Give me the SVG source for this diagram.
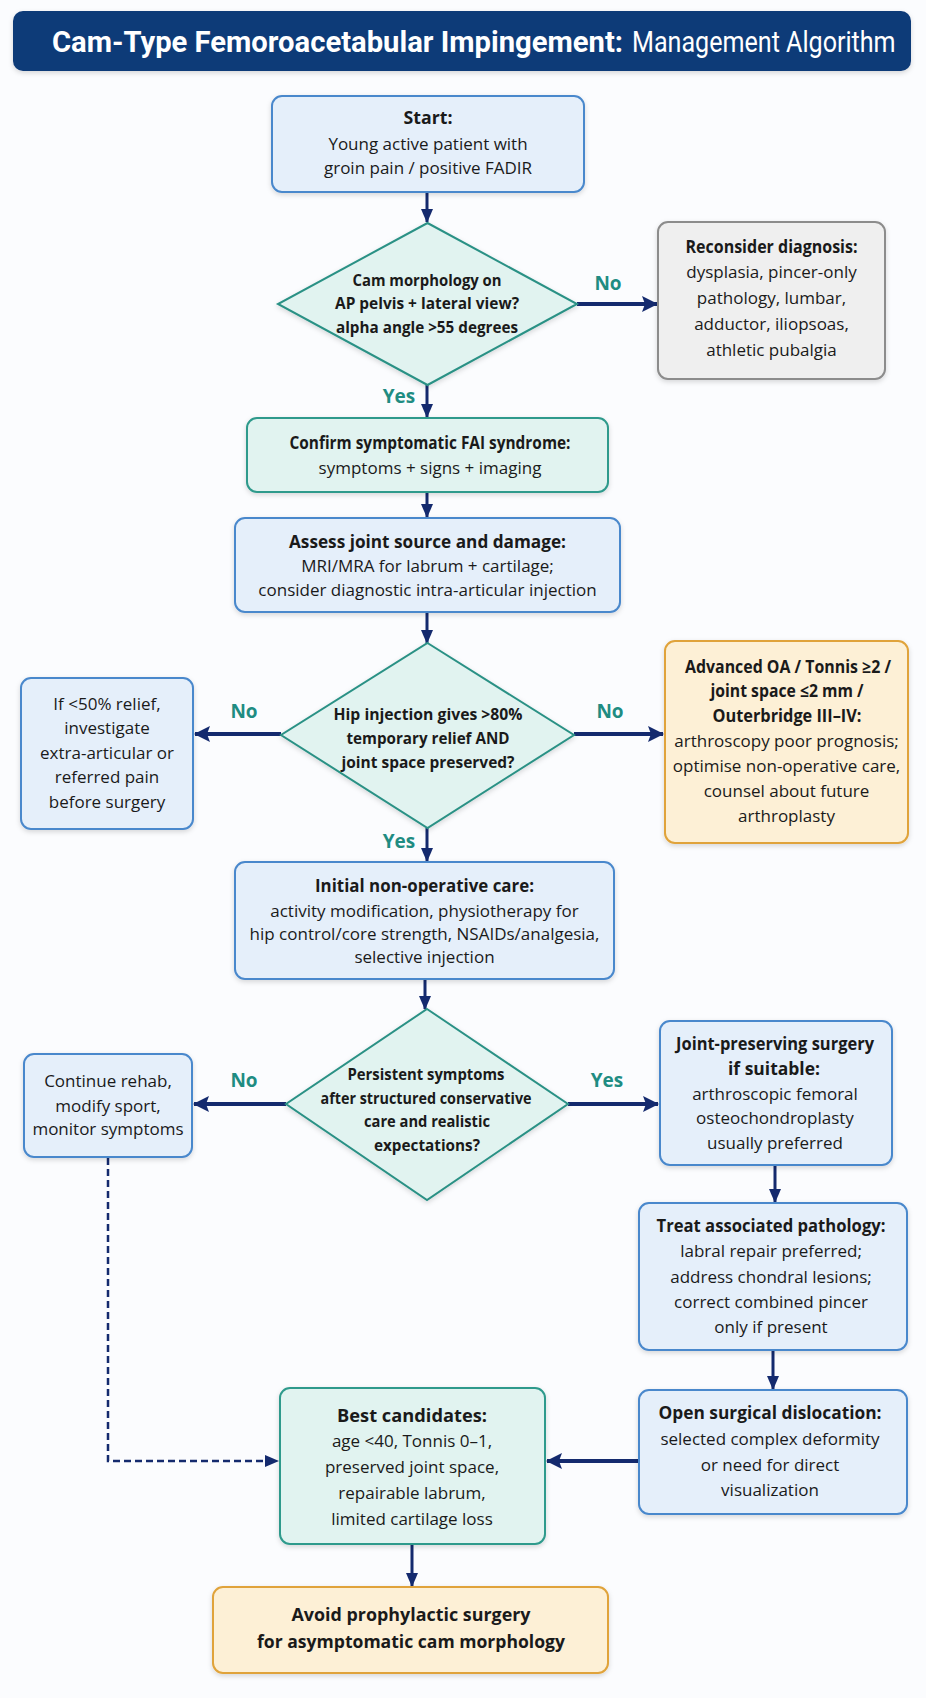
<svg xmlns="http://www.w3.org/2000/svg" width="926" height="1698" viewBox="0 0 926 1698">
<defs>
<style>
text{font-family:"Open Sans","Noto Sans","Liberation Sans",sans-serif;fill:#1a1a1a;text-anchor:middle}
.t{font-size:17px}
.b{font-size:17px;font-weight:bold}
.d{font-size:16px;font-weight:bold}
.lbl{font-size:19px;font-weight:bold;fill:#1f8c82}
.title{font-family:Roboto,"Open Sans","Liberation Sans",sans-serif;font-size:29px;fill:#ffffff;text-anchor:start}
.blue{fill:#e5effa;stroke:#4a88cc;stroke-width:2}
.teal{fill:#e1f3f0;stroke:#2f9a8c;stroke-width:2}
.gray{fill:#efefef;stroke:#8c8c8c;stroke-width:2}
.orange{fill:#fdf0d6;stroke:#e0a33a;stroke-width:2}
.dia{fill:#e1f3f0;stroke:#2a9185;stroke-width:2}
.c{fill:none;stroke:#142a6e;stroke-width:3}
.ch{fill:none;stroke:#142a6e;stroke-width:4}
.dash{fill:none;stroke:#142a6e;stroke-width:2.5;stroke-dasharray:7 4}
</style>
<filter id="sh" x="-10%" y="-10%" width="120%" height="130%">
<feDropShadow dx="0" dy="2" stdDeviation="2.5" flood-color="#000" flood-opacity="0.15"/>
</filter>
<marker id="a" markerUnits="userSpaceOnUse" viewBox="0 0 14 12" refX="13" refY="6" markerWidth="14" markerHeight="12" orient="auto">
<path d="M0,0 L14,6 L0,12 z" fill="#142a6e"/>
</marker>
<marker id="ah" markerUnits="userSpaceOnUse" viewBox="0 0 16 16" refX="15" refY="8" markerWidth="16" markerHeight="16" orient="auto">
<path d="M0,0 L16,8 L0,16 L3,8 z" fill="#142a6e"/>
</marker>
</defs>
<rect width="926" height="1698" fill="#fbfcfe"/>

<g id="title">
<rect x="13" y="11" width="898" height="60" rx="10" fill="#0e3a78" filter="url(#sh)"/>
<text class="title" x="52" y="52" font-weight="bold" textLength="571" lengthAdjust="spacingAndGlyphs">Cam-Type Femoroacetabular Impingement:</text>
<text class="title" x="0" y="0" transform="translate(632,52) scale(0.866,1)">Management Algorithm</text>
</g>

<g id="connectors">
<line class="c" x1="427" y1="192" x2="427" y2="222" marker-end="url(#a)"/>
<line class="c" x1="427" y1="385" x2="427" y2="417" marker-end="url(#a)"/>
<line class="c" x1="427" y1="492" x2="427" y2="517" marker-end="url(#a)"/>
<line class="c" x1="427" y1="612" x2="427" y2="643" marker-end="url(#a)"/>
<line class="c" x1="427" y1="828" x2="427" y2="861" marker-end="url(#a)"/>
<line class="c" x1="425" y1="979" x2="425" y2="1009" marker-end="url(#a)"/>
<line class="c" x1="775" y1="1165" x2="775" y2="1202" marker-end="url(#a)"/>
<line class="c" x1="773" y1="1350" x2="773" y2="1389" marker-end="url(#a)"/>
<line class="c" x1="412" y1="1544" x2="412" y2="1586" marker-end="url(#a)"/>
<line class="ch" x1="577" y1="304" x2="657" y2="304" marker-end="url(#ah)"/>
<line class="ch" x1="281" y1="734" x2="195" y2="734" marker-end="url(#ah)"/>
<line class="ch" x1="574" y1="734" x2="663" y2="734" marker-end="url(#ah)"/>
<line class="ch" x1="286" y1="1104" x2="194" y2="1104" marker-end="url(#ah)"/>
<line class="ch" x1="568" y1="1104" x2="658" y2="1104" marker-end="url(#ah)"/>
<line class="ch" x1="639" y1="1461" x2="547" y2="1461" marker-end="url(#ah)"/>
<path class="dash" d="M108,1158 L108,1461 L278,1461" marker-end="url(#a)"/>
<text class="lbl" x="608" y="290">No</text>
<text class="lbl" x="399" y="403">Yes</text>
<text class="lbl" x="244" y="718">No</text>
<text class="lbl" x="610" y="718">No</text>
<text class="lbl" x="399" y="848">Yes</text>
<text class="lbl" x="244" y="1087">No</text>
<text class="lbl" x="607" y="1087">Yes</text>
</g>

<g id="start">
<rect class="blue" x="272" y="96" width="312" height="96" rx="10" filter="url(#sh)"/>
<text class="b" x="428" y="124" textLength="49" lengthAdjust="spacingAndGlyphs">Start:</text>
<text class="t" x="428" y="150">Young active patient with</text>
<text class="t" x="428" y="174">groin pain / positive FADIR</text>
</g>

<g id="cam-morphology">
<polygon class="dia" points="427.5,223 577,304 427.5,385 278,304" filter="url(#sh)"/>
<text class="d" x="427" y="286" textLength="149" lengthAdjust="spacingAndGlyphs">Cam morphology on</text>
<text class="d" x="427" y="309" textLength="184" lengthAdjust="spacingAndGlyphs">AP pelvis + lateral view?</text>
<text class="d" x="427" y="333" textLength="182" lengthAdjust="spacingAndGlyphs">alpha angle &gt;55 degrees</text>
</g>

<g id="reconsider">
<rect class="gray" x="658" y="222" width="227" height="157" rx="10" filter="url(#sh)"/>
<text class="b" x="771.5" y="253" textLength="172" lengthAdjust="spacingAndGlyphs">Reconsider diagnosis:</text>
<text class="t" x="771.5" y="278">dysplasia, pincer-only</text>
<text class="t" x="771.5" y="304">pathology, lumbar,</text>
<text class="t" x="771.5" y="330">adductor, iliopsoas,</text>
<text class="t" x="771.5" y="356">athletic pubalgia</text>
</g>

<g id="confirm">
<rect class="teal" x="247" y="418" width="361" height="74" rx="10" filter="url(#sh)"/>
<text class="b" x="430" y="449" textLength="281" lengthAdjust="spacingAndGlyphs">Confirm symptomatic FAI syndrome:</text>
<text class="t" x="430" y="474">symptoms + signs + imaging</text>
</g>

<g id="assess">
<rect class="blue" x="235" y="518" width="385" height="94" rx="10" filter="url(#sh)"/>
<text class="b" x="427.5" y="548" textLength="277" lengthAdjust="spacingAndGlyphs">Assess joint source and damage:</text>
<text class="t" x="427.5" y="572">MRI/MRA for labrum + cartilage;</text>
<text class="t" x="427.5" y="596">consider diagnostic intra-articular injection</text>
</g>

<g id="hip-injection">
<polygon class="dia" points="427.5,643 574,735 427.5,828 281,735" filter="url(#sh)"/>
<text class="d" x="428" y="720" textLength="189" lengthAdjust="spacingAndGlyphs">Hip injection gives &gt;80%</text>
<text class="d" x="428" y="744" textLength="163" lengthAdjust="spacingAndGlyphs">temporary relief AND</text>
<text class="d" x="428" y="768" textLength="173" lengthAdjust="spacingAndGlyphs">joint space preserved?</text>
</g>

<g id="investigate">
<rect class="blue" x="21" y="678" width="172" height="151" rx="10" filter="url(#sh)"/>
<text class="t" x="107" y="710">If &lt;50% relief,</text>
<text class="t" x="107" y="734">investigate</text>
<text class="t" x="107" y="759">extra-articular or</text>
<text class="t" x="107" y="783">referred pain</text>
<text class="t" x="107" y="808">before surgery</text>
</g>

<g id="advanced-oa">
<rect class="orange" x="665" y="641" width="243" height="202" rx="10" filter="url(#sh)"/>
<text class="b" x="788" y="673" textLength="206" lengthAdjust="spacingAndGlyphs">Advanced OA / Tonnis ≥2 /</text>
<text class="b" x="787" y="697" textLength="153" lengthAdjust="spacingAndGlyphs">joint space ≤2 mm /</text>
<text class="b" x="787" y="722" textLength="149" lengthAdjust="spacingAndGlyphs">Outerbridge III–IV:</text>
<text class="t" x="786.5" y="747">arthroscopy poor prognosis;</text>
<text class="t" x="786.5" y="772">optimise non-operative care,</text>
<text class="t" x="786.5" y="797">counsel about future</text>
<text class="t" x="786.5" y="822">arthroplasty</text>
</g>

<g id="non-operative">
<rect class="blue" x="235" y="862" width="379" height="117" rx="10" filter="url(#sh)"/>
<text class="b" x="424.5" y="892" textLength="219" lengthAdjust="spacingAndGlyphs">Initial non-operative care:</text>
<text class="t" x="424.5" y="917">activity modification, physiotherapy for</text>
<text class="t" x="424.5" y="940">hip control/core strength, NSAIDs/analgesia,</text>
<text class="t" x="424.5" y="963">selective injection</text>
</g>

<g id="persistent">
<polygon class="dia" points="427,1009 568,1104 427,1200 286,1104" filter="url(#sh)"/>
<text class="d" x="426" y="1080" textLength="157" lengthAdjust="spacingAndGlyphs">Persistent symptoms</text>
<text class="d" x="426" y="1104" textLength="211" lengthAdjust="spacingAndGlyphs">after structured conservative</text>
<text class="d" x="427" y="1127" textLength="126" lengthAdjust="spacingAndGlyphs">care and realistic</text>
<text class="d" x="427" y="1151" textLength="106" lengthAdjust="spacingAndGlyphs">expectations?</text>
</g>

<g id="continue-rehab">
<rect class="blue" x="24" y="1054" width="168" height="103" rx="10" filter="url(#sh)"/>
<text class="t" x="108" y="1087">Continue rehab,</text>
<text class="t" x="108" y="1112">modify sport,</text>
<text class="t" x="108" y="1135">monitor symptoms</text>
</g>

<g id="joint-preserving">
<rect class="blue" x="660" y="1021" width="232" height="144" rx="10" filter="url(#sh)"/>
<text class="b" x="775" y="1050" textLength="198" lengthAdjust="spacingAndGlyphs">Joint-preserving surgery</text>
<text class="b" x="774" y="1075" textLength="92" lengthAdjust="spacingAndGlyphs">if suitable:</text>
<text class="t" x="775" y="1100">arthroscopic femoral</text>
<text class="t" x="775" y="1124">osteochondroplasty</text>
<text class="t" x="775" y="1149">usually preferred</text>
</g>

<g id="treat-associated">
<rect class="blue" x="639" y="1203" width="268" height="147" rx="10" filter="url(#sh)"/>
<text class="b" x="771" y="1232" textLength="229" lengthAdjust="spacingAndGlyphs">Treat associated pathology:</text>
<text class="t" x="771" y="1257">labral repair preferred;</text>
<text class="t" x="771" y="1283">address chondral lesions;</text>
<text class="t" x="771" y="1308">correct combined pincer</text>
<text class="t" x="771" y="1333">only if present</text>
</g>

<g id="open-dislocation">
<rect class="blue" x="639" y="1390" width="268" height="124" rx="10" filter="url(#sh)"/>
<text class="b" x="770" y="1419" textLength="223" lengthAdjust="spacingAndGlyphs">Open surgical dislocation:</text>
<text class="t" x="770" y="1445">selected complex deformity</text>
<text class="t" x="770" y="1471">or need for direct</text>
<text class="t" x="770" y="1496">visualization</text>
</g>

<g id="best-candidates">
<rect class="teal" x="280" y="1388" width="265" height="156" rx="10" filter="url(#sh)"/>
<text class="b" x="412" y="1422" textLength="150" lengthAdjust="spacingAndGlyphs">Best candidates:</text>
<text class="t" x="412" y="1447">age &lt;40, Tonnis 0–1,</text>
<text class="t" x="412" y="1473">preserved joint space,</text>
<text class="t" x="412" y="1499">repairable labrum,</text>
<text class="t" x="412" y="1525">limited cartilage loss</text>
</g>

<g id="avoid">
<rect class="orange" x="213" y="1587" width="395" height="86" rx="10" filter="url(#sh)"/>
<text class="b" x="411" y="1621" textLength="239" lengthAdjust="spacingAndGlyphs">Avoid prophylactic surgery</text>
<text class="b" x="411" y="1648" textLength="308" lengthAdjust="spacingAndGlyphs">for asymptomatic cam morphology</text>
</g>
</svg>
